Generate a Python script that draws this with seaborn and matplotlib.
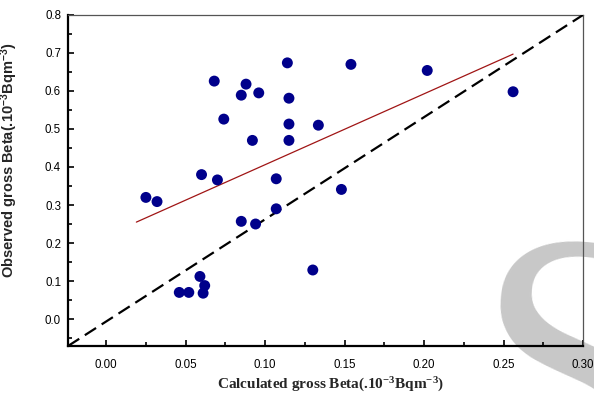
# Observed vs calculated gross beta scatter
import numpy as np
import pandas as pd
import matplotlib
matplotlib.use('Agg')
import matplotlib.pyplot as plt
from matplotlib.ticker import MultipleLocator, FormatStrFormatter
import seaborn as sns

sns.set_style('ticks')
matplotlib.rcParams['font.family'] = ['Liberation Sans', 'DejaVu Sans']
matplotlib.rcParams['mathtext.default'] = 'regular'

# data
calculated = [0.025, 0.032, 0.060, 0.070, 0.068, 0.074, 0.085, 0.088, 0.096, 0.092,
              0.114, 0.115, 0.115, 0.115, 0.1335, 0.154, 0.202, 0.256, 0.107, 0.107,
              0.148, 0.085, 0.094, 0.130, 0.059, 0.062, 0.046, 0.052, 0.061]
observed = [0.320, 0.309, 0.380, 0.366, 0.626, 0.526, 0.589, 0.618, 0.595, 0.470,
            0.674, 0.581, 0.513, 0.470, 0.510, 0.670, 0.654, 0.598, 0.369, 0.290,
            0.341, 0.257, 0.250, 0.129, 0.112, 0.088, 0.070, 0.070, 0.068]
fit_x = [0.019, 0.256]
fit_y = [0.255, 0.697]

df = pd.DataFrame({'Calculated': calculated, 'Observed': observed})
fit = pd.DataFrame({'x': fit_x, 'y': fit_y})

fig = plt.figure(figsize=(5.94, 3.94), dpi=100)
ax = fig.add_axes([0.1145, 0.1218, 0.867, 0.8402])
ax.patch.set_alpha(0)

# watermark (large grey letter, mostly off the page)
fig.text(0.945, -0.235, 'S', fontsize=265, color='#c8c8c8', rotation=-5,
         rotation_mode='anchor', family='Liberation Serif', ha='center',
         va='baseline', zorder=-5)

sns.scatterplot(data=df, x='Calculated', y='Observed', ax=ax, color='#00008b',
                s=62, edgecolor='none', zorder=4)
sns.lineplot(data=fit, x='x', y='y', ax=ax, color='#a01515', linewidth=0.9, zorder=3)
ax.plot([0, 1], [0, 1], transform=ax.transAxes, color='black', lw=1.6,
        dashes=(6, 3), zorder=3)

ax.set_xlim(-0.024, 0.30)
ax.set_ylim(-0.071, 0.80)
ax.xaxis.set_major_locator(MultipleLocator(0.05))
ax.xaxis.set_minor_locator(MultipleLocator(0.025))
ax.yaxis.set_major_locator(MultipleLocator(0.1))
ax.yaxis.set_minor_locator(MultipleLocator(0.05))
ax.xaxis.set_major_formatter(FormatStrFormatter('%.2f'))
ax.yaxis.set_major_formatter(FormatStrFormatter('%.1f'))
ax.tick_params(which='both', direction='in', width=1.2, labelsize=8.3,
               top=False, right=False, colors='black')
ax.tick_params(axis='x', which='both', pad=9)
ax.tick_params(axis='y', which='both', pad=5)
ax.tick_params(which='major', length=4.5)
ax.tick_params(which='minor', length=3)

for side in ['left', 'bottom']:
    ax.spines[side].set_linewidth(1.6)
    ax.spines[side].set_color('black')
for side in ['top', 'right']:
    ax.spines[side].set_linewidth(0.9)
    ax.spines[side].set_color('#555555')

ax.set_xlabel('Calculated gross Beta(.10$^{-3}$Bqm$^{-3}$)', family='Liberation Serif',
              fontweight='bold', fontsize=11)
ax.set_ylabel('Observed gross Beta(.10$^{-3}$Bqm$^{-3}$)', family='Liberation Sans',
              fontweight='bold', fontsize=10.5)
ax.xaxis.set_label_coords(0.509, -0.09)
ax.yaxis.set_label_coords(-0.093, 0.56)

fig.savefig('out.png', dpi=100)
